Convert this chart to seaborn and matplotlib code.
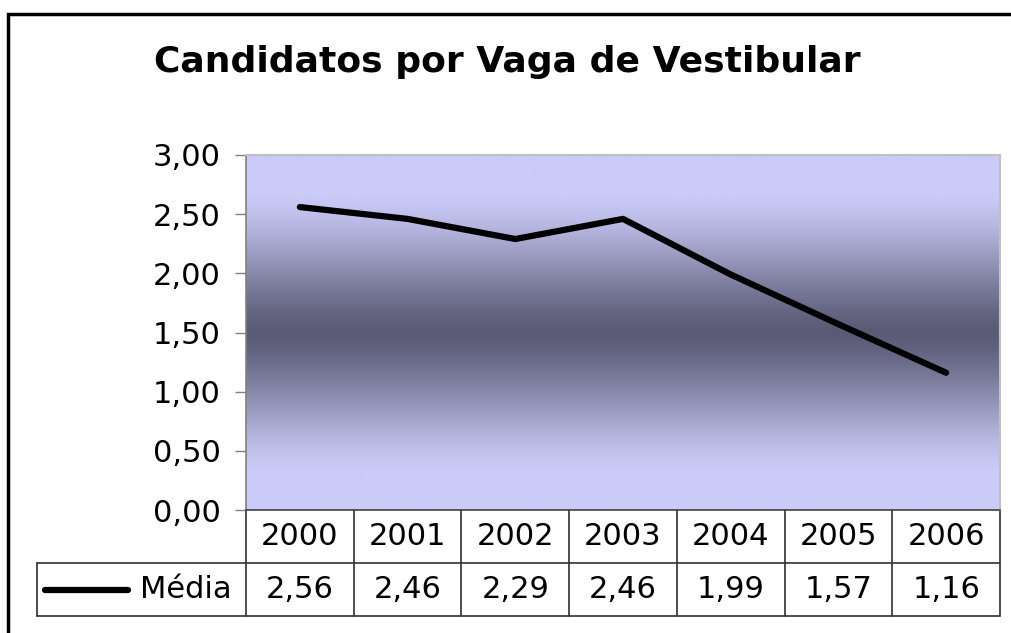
import numpy as np
import pandas as pd
import matplotlib
matplotlib.use('Agg')
import matplotlib.pyplot as plt
import matplotlib.colors as mcolors
import seaborn as sns

anos = ['2000', '2001', '2002', '2003', '2004', '2005', '2006']
media = [2.56, 2.46, 2.29, 2.46, 1.99, 1.57, 1.16]
serie = 'Média'
titulo = 'Candidatos por Vaga de Vestibular'
yticks = [0.0, 0.5, 1.0, 1.5, 2.0, 2.5, 3.0]

sns.set_theme(style='white')
plt.rcParams['font.family'] = ['DejaVu Sans']
plt.rcParams['text.color'] = 'black'
plt.rcParams['ytick.color'] = 'black'

W, H = 1011, 633
fig = plt.figure(figsize=(W / 100, H / 100), dpi=100)

# plot area in pixel coords
L, R, T, B = 246, 1000, 155, 510
ax = fig.add_axes([L / W, 1 - B / H, (R - L) / W, (B - T) / H])

# gradient background (light - dark - light), smoothed at the ends
lav = np.array(mcolors.to_rgb('#cbcbf8'))
dark = np.array(mcolors.to_rgb('#5a5a76'))
pos = np.linspace(0, 1, 256)
w = np.interp(pos, [0.0, 0.11, 0.5, 0.89, 1.0], [0, 0, 1, 0, 0])
w = w * w * (3 - 2 * w) * 0.5 + w * 0.5
grad = lav[None, :] * (1 - w[:, None]) + dark[None, :] * w[:, None]
grad = np.repeat(grad[:, None, :], 2, axis=1)
ax.imshow(grad, extent=(-0.5, 6.5, 0, 3), aspect='auto', origin='lower', zorder=0)

df = pd.DataFrame({'x': np.arange(len(anos)), 'y': media})
sns.lineplot(data=df, x='x', y='y', ax=ax, color='black', linewidth=4.5,
             solid_capstyle='round', solid_joinstyle='round', zorder=3)

ax.set_xlim(-0.5, 6.5)
ax.set_ylim(0, 3)
ax.set_xticks([])
ax.set_yticks(yticks)
ax.set_yticklabels([f'{v:.2f}'.replace('.', ',') for v in yticks], fontsize=22)
ax.tick_params(axis='y', left=True, length=8, width=1, color='#808080', pad=10,
               labelcolor='black')
ax.set_xlabel('')
ax.set_ylabel('')
for s in ['top', 'right']:
    ax.spines[s].set_color('#c0c0c0')
    ax.spines[s].set_linewidth(1.5)
ax.spines['left'].set_color('#808080')
ax.spines['left'].set_linewidth(1.2)
ax.spines['bottom'].set_color('#404040')
ax.spines['bottom'].set_linewidth(1.2)

# data table below
tr = ax.get_xaxis_transform()
rh = 53 / (B - T)
px = (R - L) / 7
x_leg = -0.5 - (L - 37) / px
lc = '#303030'
ax.plot([x_leg, 6.5], [-rh, -rh], transform=tr, color=lc, lw=1.2, clip_on=False)
ax.plot([x_leg, 6.5], [-2 * rh, -2 * rh], transform=tr, color=lc, lw=1.2, clip_on=False)
ax.plot([x_leg, x_leg], [-rh, -2 * rh], transform=tr, color=lc, lw=1.2, clip_on=False)
for k in range(len(anos) + 1):
    ax.plot([k - 0.5, k - 0.5], [0, -2 * rh], transform=tr, color=lc, lw=1.2, clip_on=False)
for i, (a, v) in enumerate(zip(anos, media)):
    ax.text(i, -0.5 * rh, a, transform=tr, ha='center', va='center', fontsize=22)
    ax.text(i, -1.5 * rh, f'{v:.2f}'.replace('.', ','), transform=tr,
            ha='center', va='center', fontsize=22)
# legend key in table
kx0 = -0.5 - (L - 45) / px
kx1 = -0.5 - (L - 128) / px
ax.plot([kx0, kx1], [-1.5 * rh, -1.5 * rh], transform=tr, color='black', lw=4.5,
        solid_capstyle='round', clip_on=False)
ax.text(-0.5 - (L - 232) / px, -1.5 * rh, serie, transform=tr, ha='right', va='center',
        fontsize=22)

fig.text(507 / W, 1 - 62 / H, titulo, ha='center', va='center', fontsize=26,
         fontweight='bold')

# outer chart border
fig.patches.append(plt.Rectangle((8 / W, -0.2), 1.2, 1 - 14 / H + 0.2,
                                 transform=fig.transFigure, fill=False,
                                 edgecolor='black', linewidth=2.5))

fig.savefig('out.png', dpi=100, facecolor='white')
